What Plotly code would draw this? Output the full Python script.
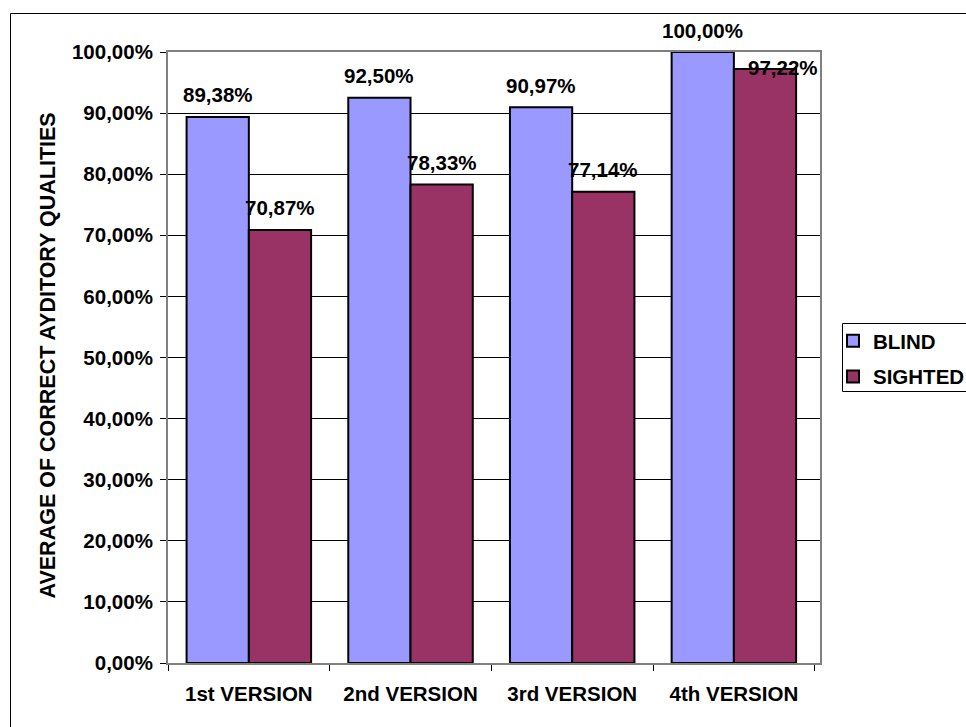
import plotly.graph_objects as go

# Chart data
categories = ["1st VERSION", "2nd VERSION", "3rd VERSION", "4th VERSION"]
blind = [0.8938, 0.9250, 0.9097, 1.0000]
sighted = [0.7087, 0.7833, 0.7714, 0.9722]
series_names = ["BLIND", "SIGHTED"]
y_ticks = [i / 10 for i in range(11)]
y_title = "AVERAGE OF CORRECT AYDITORY QUALITIES"

FONT = "Liberation Sans, Arial, sans-serif"
BLIND_COLOR = "#9999FF"
SIGHTED_COLOR = "#993366"

W, H = 966, 727
M_L, M_R, M_T, M_B = 168, 146, 52, 64
PW, PH = W - M_L - M_R, H - M_T - M_B
BARGAP = 0.23


def px_x(px):
    return (px - M_L) / PW


def px_y(py):
    return (H - M_B - py) / PH


def bold(size):
    return dict(family=FONT, size=size, color="black", weight="bold")


fig = go.Figure()
for name, vals, color in [(series_names[0], blind, BLIND_COLOR),
                          (series_names[1], sighted, SIGHTED_COLOR)]:
    fig.add_trace(go.Bar(
        name=name, x=categories, y=vals,
        marker=dict(color=color, line=dict(color="black", width=2)),
        legendgroup=name,
    ))

# Value labels above each bar
half = (1 - BARGAP) / 4
annotations = []
for s, vals in enumerate([blind, sighted]):
    for i, v in enumerate(vals):
        xshift, yshift = 0, 22
        if s == 1 and i == 3:
            xshift, yshift = 18, 1
        annotations.append(dict(
            x=i + (-half if s == 0 else half), y=v, xref="x", yref="y",
            text=f"{v * 100:.2f}%".replace(".", ","),
            showarrow=False, xanchor="center", yanchor="middle",
            xshift=xshift, yshift=yshift,
            font=bold(20.5),
        ))

# Y axis title
annotations.append(dict(
    x=px_x(48), y=px_y(355.5), xref="paper", yref="paper",
    text=y_title, textangle=-90, showarrow=False,
    xanchor="center", yanchor="middle",
    font=bold(21.5),
))

shapes = [
    # chart frame
    dict(type="rect", xref="paper", yref="paper",
         x0=px_x(10.5), x1=px_x(990), y0=px_y(13.5), y1=px_y(760),
         line=dict(color="black", width=1), fillcolor="rgba(0,0,0,0)", layer="below"),
    # legend frame
    dict(type="rect", xref="paper", yref="paper",
         x0=px_x(842.5), x1=px_x(990), y0=px_y(323.5), y1=px_y(391.5),
         line=dict(color="black", width=1), fillcolor="rgba(0,0,0,0)"),
]

fig.update_layout(
    width=W, height=H,
    margin=dict(l=M_L, r=M_R, t=M_T, b=M_B, pad=0, autoexpand=False),
    paper_bgcolor="white", plot_bgcolor="white",
    barmode="group", bargap=BARGAP, bargroupgap=0,
    separators=", ",
    font=bold(20.5),
    showlegend=True,
    legend=dict(
        x=px_x(833), y=px_y(321), xanchor="left", yanchor="top",
        bgcolor="rgba(0,0,0,0)", borderwidth=0,
        font=bold(20.5),
        tracegroupgap=6,
    ),
    annotations=annotations,
    shapes=shapes,
)

fig.update_yaxes(
    range=[0, 1], tickvals=y_ticks, tickformat=".2%",
    showgrid=True, gridcolor="black", gridwidth=1, zeroline=False,
    showline=True, linecolor="#808080", linewidth=2, mirror=True,
    ticks="outside", ticklen=6, tickwidth=1, tickcolor="black",
    ticklabelstandoff=3,
    tickfont=bold(20.5),
)
fig.update_xaxes(
    type="category",
    showgrid=False, zeroline=False,
    showline=True, linecolor="#808080", linewidth=2, mirror=True,
    ticks="outside", ticklen=6, tickwidth=1, tickcolor="black",
    tickson="boundaries", ticklabelstandoff=11,
    tickfont=bold(20.5),
)

fig.write_html("out.html")
